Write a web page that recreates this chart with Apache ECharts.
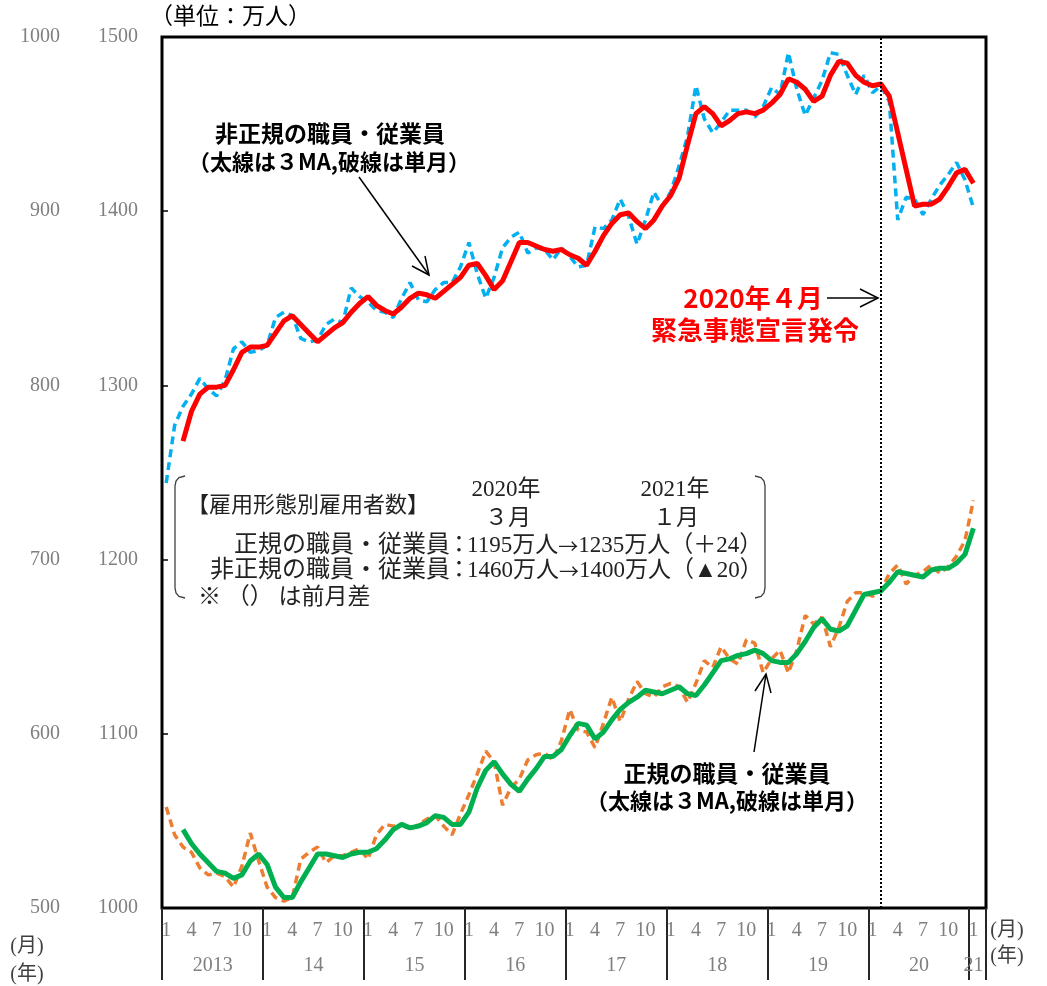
<!DOCTYPE html>
<html>
<head>
<meta charset="utf-8">
<script src="https://cdn.jsdelivr.net/npm/echarts/dist/echarts.min.js"></script>
<style>html,body{margin:0;padding:0;background:#fff}#c{width:1047px;height:986px}</style>
</head>
<body>
<div id="c"></div>
<script>
// ---- data (万人), monthly 2013/1 ... 2021/1 ----
const yearLabels = ['2013','14','15','16','17','18','19','20','21'];
const monthTickLabels = ['1','4','7','10'];

// 非正規の職員・従業員 (単月, 破線)
const nonRegularMonthly = [
 1244,1277,1288,1295,1304,1298,1294,1303,1321,1325,1319,1320,
 1323,1339,1342,1340,1327,1325,1326,1335,1338,1336,1356,1351,
 1348,1343,1342,1339,1350,1359,1349,1348,1355,1359,1359,1368,
 1382,1364,1350,1362,1379,1385,1388,1376,1379,1378,1372,1379,
 1374,1368,1369,1391,1390,1395,1407,1397,1381,1395,1411,1403,
 1411,1426,1443,1472,1453,1445,1451,1458,1458,1458,1454,1460,
 1471,1467,1491,1470,1455,1465,1475,1491,1490,1478,1467,1478,
 1468,1472,1463,1395,1408,1407,1398,1407,1415,1421,1428,1418,
 1402
];
// 非正規の職員・従業員 (3MA, 太線)
const nonRegular3MA = [
 null,null,1268,1285,1295,1299,1299,1300,1309,1319,1322,1322,
 1323,1330,1337,1340,1335,1330,1325,1329,1333,1336,1342,1347,
 1351,1346,1343,1341,1345,1350,1353,1352,1350,1354,1358,1362,
 1369,1370,1363,1355,1360,1371,1382,1382,1380,1378,1377,1378,
 1375,1373,1369,1377,1386,1393,1398,1399,1394,1390,1395,1403,
 1409,1419,1438,1456,1460,1456,1449,1452,1456,1457,1456,1458,
 1462,1467,1476,1474,1470,1463,1466,1478,1486,1485,1478,1474,
 1472,1473,1466,1445,1424,1403,1404,1404,1407,1414,1422,1424,
 1416
];
// 正規の職員・従業員 (単月, 破線)
const regularMonthly = [
 1058,1042,1035,1032,1023,1019,1020,1018,1012,1024,1043,1027,
 1012,1006,1004,1006,1028,1032,1035,1026,1030,1030,1032,1034,
 1028,1042,1048,1047,1048,1045,1048,1051,1053,1047,1042,1054,
 1065,1077,1090,1084,1059,1069,1074,1085,1088,1089,1085,1096,
 1114,1102,1101,1092,1106,1121,1107,1120,1130,1123,1121,1127,
 1129,1127,1118,1129,1142,1138,1150,1143,1140,1154,1152,1135,
 1143,1148,1135,1148,1168,1163,1167,1150,1161,1176,1181,1181,
 1179,1182,1192,1197,1186,1191,1193,1197,1192,1196,1202,1211,
 1234
];
// 正規の職員・従業員 (3MA, 太線)
const regular3MA = [
 null,null,1045,1037,1031,1026,1021,1020,1017,1019,1027,1031,
 1025,1012,1006,1006,1015,1023,1031,1031,1030,1029,1031,1032,
 1032,1034,1039,1045,1048,1046,1047,1049,1053,1052,1048,1048,
 1055,1069,1079,1084,1077,1071,1067,1074,1080,1087,1087,1091,
 1099,1106,1105,1097,1101,1108,1114,1118,1121,1125,1124,1123,
 1125,1127,1123,1122,1128,1135,1142,1143,1145,1146,1148,1146,
 1142,1141,1141,1146,1153,1161,1166,1160,1159,1162,1171,1180,
 1181,1182,1187,1193,1192,1191,1190,1194,1195,1195,1198,1203,
 1218
];
const declarationMonth = '2020/2';

// categories: 2013/1 ... 2021/2 (last one empty, as in the source)
const categories = [];
for (let y = 2013; y <= 2020; y++) for (let m = 1; m <= 12; m++) categories.push(y + '/' + m);
categories.push('2021/1', '2021/2');

const GREY = '#7f7f7f';
const SERIF = "'Liberation Serif','DejaVu Serif','Noto Sans CJK JP',serif";
const GOTH = "'Noto Sans CJK JP','Noto Sans',sans-serif";

function monthOf(v){ return v.split('/')[1]; }
function yearIdx(v){ return parseInt(v.split('/')[0],10) - 2013; }

const chart = echarts.init(document.getElementById('c'), null, {renderer:'canvas'});

const g = [];
function txt(x, y, s, font, fill, align, rich){
  const st = {text:s, font:font, fill:fill||'#000', align:align||'center', verticalAlign:'middle'};
  if (rich) st.rich = rich;
  g.push({type:'text', x:x, y:y, silent:true, z:100, style:st});
}
function pl(points, w, color){
  g.push({type:'polyline', silent:true, z:100, shape:{points:points},
    style:{stroke:color||'#000', lineWidth:w||1.5, fill:null}});
}
// unit
txt(150, 18, '（単位：万人）', "23px " + SERIF, '#000', 'left');
// annotation: 非正規
txt(330, 133, '非正規の職員・従業員', "bold 23px " + GOTH);
txt(329, 162, '（太線は３MA,破線は単月）', "bold 22px " + GOTH);
pl([[359,177],[429,275]], 1.5);
pl([[412,266],[429,275],[425,256]], 1.5);
// annotation: 正規
txt(727, 773, '正規の職員・従業員', "bold 23px " + GOTH);
txt(727, 801, '（太線は３MA,破線は単月）', "bold 22px " + GOTH);
pl([[754,752],[766,674]], 1.5);
pl([[755,691],[766,674],[771,693]], 1.5);
// 緊急事態宣言
txt(753, 298, '2020年４月', "bold 26px " + GOTH, '#ff0000');
txt(755, 330, '緊急事態宣言発令', "bold 26px " + GOTH, '#ff0000');
pl([[827,298],[878,298]], 1.5);
pl([[860,289],[878,298],[860,307]], 1.5);
// info box brackets
pl([[185,476],[179,477.5],[176,481],[175,486],[175,588],[176,593],[179,596.5],[185,598]], 1.3, '#404040');
pl([[755,476],[761,477.5],[764,481],[765,486],[765,588],[764,593],[761,596.5],[755,598]], 1.3, '#404040');
const BOXF = "23px " + SERIF;
const BOXL = "24px " + SERIF;
const arrowRich = {n:{font:"23px " + SERIF, fill:'#222'}, a:{font:"20px 'Noto Sans CJK JP'", fill:'#222'}};
txt(187, 506, '【雇用形態別雇用者数】', "22px " + SERIF, '#222', 'left');
txt(506, 490, '2020年', BOXF, '#222');
txt(508, 519, '３月', BOXF, '#222');
txt(675, 490, '2021年', BOXF, '#222');
txt(676, 519, '１月', BOXF, '#222');
txt(450, 546, '正規の職員・従業員', BOXL, '#222', 'right');
txt(459, 546, '：', BOXF, '#222');
txt(467, 546, '{n|1195万人}{a|→}{n|1235万人（＋24）}', BOXF, '#222', 'left', arrowRich);
txt(450, 571, '非正規の職員・従業員', BOXL, '#222', 'right');
txt(459, 571, '：', BOXF, '#222');
txt(467, 571, '{n|1460万人}{a|→}{n|1400万人（▲20）}', BOXF, '#222', 'left', arrowRich);
txt(198, 598, '※ （） は前月差', BOXF, '#222', 'left');
// axis unit labels
txt(27, 947, '(月)', "20px " + SERIF, '#404040');
txt(27, 975, '(年)', "20px " + SERIF, '#404040');
txt(1007, 931, '(月)', "20px " + SERIF, '#404040');
txt(1007, 957, '(年)', "20px " + SERIF, '#404040');

const option = {
  animation:false,
  backgroundColor:'#fff',
  grid:{left:162, right:61, top:37, bottom:78, show:true, borderColor:'#000', borderWidth:3, backgroundColor:'transparent'},
  xAxis:[{
    type:'category', data:categories, boundaryGap:true, position:'bottom',
    axisLine:{show:false},
    axisTick:{show:true, length:72, interval:function(i){ return i % 12 === 0; }, lineStyle:{color:'#262626', width:2}},
    axisLabel:{show:true, margin:13, color:GREY, fontSize:20, fontFamily:SERIF,
      interval:function(i, v){ return i < 97 && monthTickLabels.indexOf(monthOf(v)) >= 0; },
      formatter:function(v){ return monthOf(v); }},
    splitLine:{show:false}
  },{
    type:'category', data:categories, boundaryGap:true, position:'bottom',
    axisLine:{show:false}, axisTick:{show:false}, splitLine:{show:false},
    axisLabel:{show:true, margin:48, color:GREY, fontSize:20, fontFamily:SERIF,
      interval:function(i){ return (i % 12 === 6 && i < 96) || i === 96; },
      formatter:function(v){
        const lab = yearLabels[yearIdx(v)];
        return monthOf(v) === '1' ? '{b|' + lab + '}' : '{a|' + lab + '}';
      },
      rich:{
        a:{padding:[0,8,0,0], color:GREY, fontSize:20, fontFamily:SERIF},
        b:{color:GREY, fontSize:20, fontFamily:SERIF}
      }}
  }],
  yAxis:[{
    type:'value', min:1000, max:1500, interval:100, position:'left',
    axisLine:{show:false},
    axisTick:{show:true, inside:true, length:6, lineStyle:{color:'#000', width:1.5}},
    axisLabel:{color:GREY, fontSize:20, fontFamily:SERIF, margin:24, formatter:function(v){ return String(v); }},
    splitLine:{show:false}
  },{
    type:'value', min:500, max:1000, interval:100, position:'left', offset:78,
    axisLine:{show:false}, axisTick:{show:false},
    axisLabel:{color:GREY, fontSize:20, fontFamily:SERIF, margin:24, formatter:function(v){ return String(v); }},
    splitLine:{show:false}
  }],
  series:[
    {name:'正規(単月)', type:'line', data:regularMonthly, symbol:'none', z:2,
     lineStyle:{color:'#ED7D31', width:3.5, type:[8,5]},
     markLine:{silent:true, symbol:['none','none'], label:{show:false},
       lineStyle:{color:'#000', type:'dotted', width:2}, data:[{xAxis:declarationMonth}]}},
    {name:'正規(3MA)', type:'line', data:regular3MA, symbol:'none', z:3,
     lineStyle:{color:'#00B050', width:5}},
    {name:'非正規(単月)', type:'line', data:nonRegularMonthly, symbol:'none', z:2,
     lineStyle:{color:'#00B0F0', width:3.5, type:[8,5]}},
    {name:'非正規(3MA)', type:'line', data:nonRegular3MA, symbol:'none', z:3,
     lineStyle:{color:'#FF0000', width:5}}
  ],
  graphic:g
};
chart.setOption(option);
</script>
</body>
</html>
